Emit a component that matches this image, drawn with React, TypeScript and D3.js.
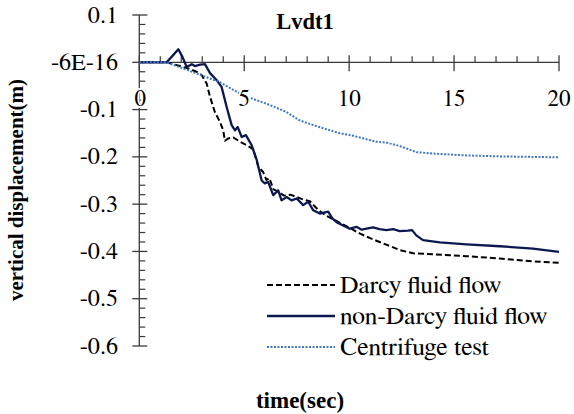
import React from "react";
import * as d3 from "d3";

const xTicks = [0, 5, 10, 15, 20];
const xTickLabels = ["0", "5", "10", "15", "20"];
const yTicks = [0.1, 0, -0.1, -0.2, -0.3, -0.4, -0.5, -0.6];
const yTickLabels = ["0.1", "-6E-16", "-0.1", "-0.2", "-0.3", "-0.4", "-0.5", "-0.6"];

const nonDarcyT = [0, 1.3, 1.55, 1.86, 2.05, 2.26, 2.5, 2.65, 2.9, 3.13, 3.37, 3.69, 3.92, 4.16, 4.4, 4.56, 4.69, 4.88, 5.08, 5.35, 5.6, 5.83, 5.98, 6.14, 6.38, 6.62, 6.78, 7.02, 7.26, 7.5, 7.81, 8.05, 8.29, 8.6, 9.0, 9.2, 9.4, 9.71, 10.03, 10.35, 10.6, 10.83, 11.14, 11.45, 11.78, 12.1, 12.41, 12.8, 13.0, 13.2, 13.52, 14.32, 15.59, 17.18, 18.76, 20];
const nonDarcyV = [0, 0, 0.012, 0.0275, 0.012, -0.01, -0.004, -0.008, -0.005, -0.004, -0.023, -0.038, -0.052, -0.094, -0.133, -0.144, -0.137, -0.158, -0.154, -0.175, -0.207, -0.25, -0.256, -0.253, -0.281, -0.271, -0.292, -0.285, -0.292, -0.288, -0.302, -0.295, -0.313, -0.32, -0.316, -0.33, -0.338, -0.345, -0.352, -0.348, -0.354, -0.352, -0.349, -0.353, -0.355, -0.353, -0.357, -0.356, -0.355, -0.366, -0.376, -0.381, -0.385, -0.389, -0.394, -0.401];

const darcyT = [0, 1.3, 2.26, 2.73, 2.97, 3.21, 3.37, 3.6, 3.84, 4.0, 4.08, 4.24, 4.48, 4.8, 5.11, 5.43, 5.67, 5.9, 6.06, 6.2, 6.38, 6.62, 6.9, 7.2, 7.5, 7.8, 8.13, 8.52, 8.92, 9.3, 9.7, 10.1, 10.5, 11.0, 11.62, 12.41, 13.05, 14.0, 15.59, 17.18, 18.76, 20];
const darcyV = [0, 0, -0.012, -0.02, -0.027, -0.045, -0.073, -0.105, -0.126, -0.144, -0.166, -0.161, -0.159, -0.168, -0.175, -0.184, -0.221, -0.232, -0.249, -0.245, -0.268, -0.274, -0.282, -0.28, -0.285, -0.29, -0.294, -0.312, -0.325, -0.333, -0.343, -0.352, -0.362, -0.372, -0.383, -0.397, -0.404, -0.406, -0.41, -0.415, -0.421, -0.424];

const centT = [0, 1.3, 2.5, 3.83, 4.95, 6.2, 7.0, 7.65, 8.3, 8.8, 9.24, 9.56, 10.04, 10.6, 11.3, 11.8, 12.41, 13.2, 14.0, 15.59, 17.18, 20];
const centV = [0, 0, -0.02, -0.042, -0.07, -0.09, -0.105, -0.123, -0.133, -0.14, -0.146, -0.15, -0.154, -0.16, -0.168, -0.17, -0.177, -0.19, -0.193, -0.197, -0.199, -0.201];

const seriesNames = ["Darcy fluid flow", "non-Darcy fluid flow", "Centrifuge test"];

const W = 574, H = 414;
const x = d3.scaleLinear().domain([0, 20]).range([139.3, 559]);
const y = d3.scaleLinear().domain([-0.6, 0.1]).range([346, 15]);

const line = d3.line<[number, number]>().x(d => x(d[0])).y(d => y(d[1]));
const zip = (t: number[], v: number[]) => t.map((ti, i) => [ti, v[i]] as [number, number]);

const AXIS = "#3a3a3a";
const NAVY = "#0c1850";
const BLUE = "#3f78c6";
const FONT = "FreeSerif, Liberation Serif, Times New Roman, serif";
const BFONT = "Liberation Serif, Times New Roman, FreeSerif, serif";

export default function App() {
  const xMinor = d3.range(0, 21, 1).filter(v => v % 5 !== 0);
  const yMinor = d3.range(-30, 6, 1).map(v => v * 0.02).filter(v => Math.abs(Math.round(v * 50) % 5) !== 0);
  const styles = [
    { stroke: "#000", dash: "6,3", w: 2 },
    { stroke: NAVY, dash: "none", w: 2.3 },
    { stroke: BLUE, dash: "2,1.5", w: 2 },
  ];
  const data = [zip(darcyT, darcyV), zip(nonDarcyT, nonDarcyV), zip(centT, centV)];
  return (
    <div style={{ position: "absolute", left: 0, top: 0 }}>
      <svg width={W} height={H} style={{ display: "block", background: "#fff" }}>
        {/* y axis */}
        <line x1={x(0)} x2={x(0)} y1={y(0.1)} y2={y(-0.6)} stroke={AXIS} strokeWidth={1.3} />
        {yTicks.map(v => (
          <line key={"ym" + v} x1={x(0) - 7} x2={x(0) + 8} y1={y(v)} y2={y(v)} stroke={AXIS} strokeWidth={1.3} />
        ))}
        {yMinor.map(v => (
          <line key={"yn" + v} x1={x(0)} x2={x(0) + 6} y1={y(v)} y2={y(v)} stroke={AXIS} strokeWidth={1.2} />
        ))}
        {yTicks.map((v, i) => (
          <text key={"yl" + v} transform={`translate(118,${y(v) + 7.5}) scale(1.05,1)`} textAnchor="end" fontSize={23} fill="#000" style={{ fontFamily: FONT }}>{yTickLabels[i]}</text>
        ))}
        {/* x axis */}
        <line x1={x(0)} x2={x(20)} y1={y(0)} y2={y(0)} stroke={AXIS} strokeWidth={1.3} />
        {xTicks.map(v => (
          <line key={"xm" + v} x1={x(v)} x2={x(v)} y1={y(0) - 7} y2={y(0) + 9} stroke={AXIS} strokeWidth={1.3} />
        ))}
        {xMinor.map(v => (
          <line key={"xn" + v} x1={x(v)} x2={x(v)} y1={y(0) - 6} y2={y(0)} stroke={AXIS} strokeWidth={1.2} />
        ))}
        {/* series */}
        {data.map((d, i) => (
          <path key={"s" + i} d={line(d) || ""} fill="none" stroke={styles[i].stroke} strokeWidth={styles[i].w}
            strokeDasharray={styles[i].dash} strokeLinejoin="round" />
        ))}
        {xTicks.map((v, i) => (
          <text key={"xl" + v} x={x(v) + (v === 0 ? 1 : 0)} y={106} textAnchor="middle" fontSize={23} fill="#000"
            stroke="#fff" strokeWidth={4} style={{ paintOrder: "stroke", fontFamily: FONT }}>{xTickLabels[i]}</text>
        ))}
        {/* title */}
        <text x={305} y={29} textAnchor="middle" fontSize={22.5} fontWeight="bold" style={{ fontFamily: BFONT }}>Lvdt1</text>
        {/* axis titles */}
        <text transform="translate(23,190) rotate(-90)" textAnchor="middle" fontSize={21} fontWeight="bold" style={{ fontFamily: BFONT }}>vertical displacement(m)</text>
        <text x={300} y={408} textAnchor="middle" fontSize={23} fontWeight="bold" style={{ fontFamily: BFONT }}>time(sec)</text>
        {/* legend */}
        {seriesNames.map((n, i) => {
          const ly = 285 + i * 31;
          return (
            <g key={"lg" + i}>
              <line x1={267} x2={335} y1={ly} y2={ly} stroke={styles[i].stroke} strokeWidth={styles[i].w} strokeDasharray={styles[i].dash} />
              <text transform={`translate(340,${ly + 7.5}) scale(1.07,1)`} fontSize={24} fill="#000" style={{ fontFamily: FONT }}>{n}</text>
            </g>
          );
        })}
      </svg>
    </div>
  );
}
